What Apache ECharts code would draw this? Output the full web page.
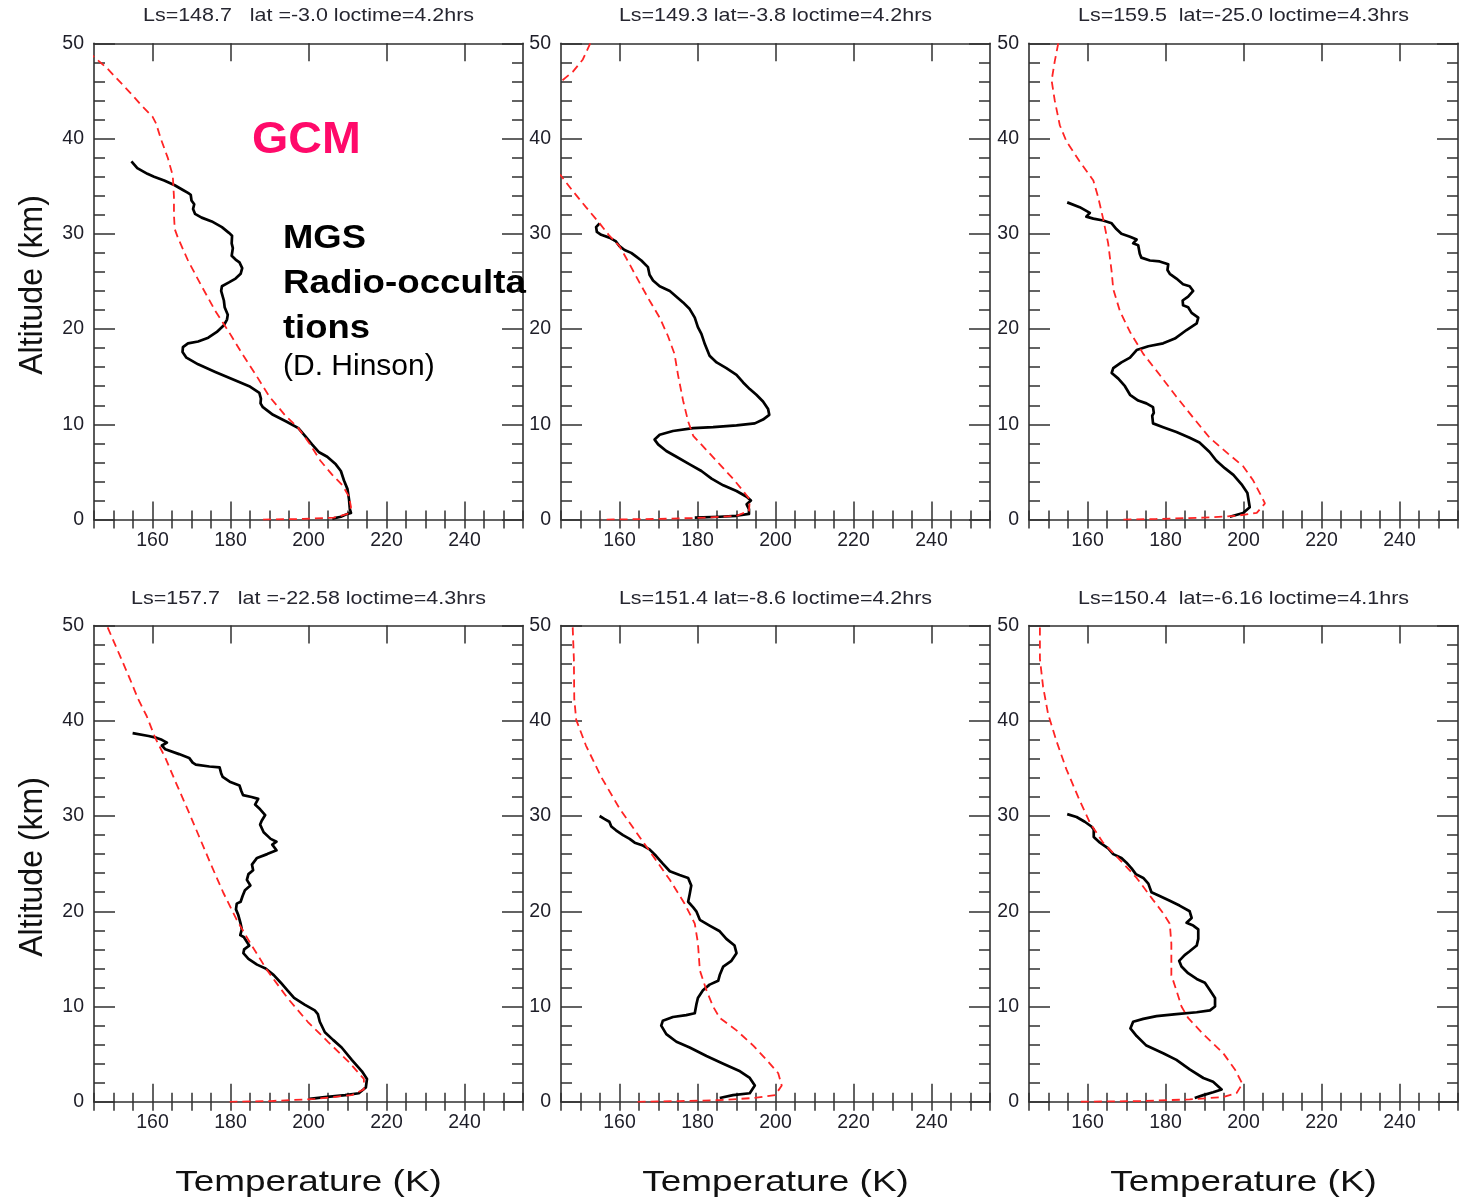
<!DOCTYPE html>
<html>
<head>
<meta charset="utf-8">
<script src="https://cdn.jsdelivr.net/npm/echarts@6/dist/echarts.min.js"></script>
<style>
  html, body { margin: 0; padding: 0; background: #fff; }
  #chart { width: 1462px; height: 1199px; }
</style>
</head>
<body>
<div id="chart"></div>
<script>
// Panel headings: season (Ls), latitude and local time of each occultation
const panelTitles = [
  'Ls=148.7   lat =-3.0 loctime=4.2hrs',
  'Ls=149.3 lat=-3.8 loctime=4.2hrs',
  'Ls=159.5  lat=-25.0 loctime=4.3hrs',
  'Ls=157.7   lat =-22.58 loctime=4.3hrs',
  'Ls=151.4 lat=-8.6 loctime=4.2hrs',
  'Ls=150.4  lat=-6.16 loctime=4.1hrs'
];

// Axis scales
const tempMin = 145, tempMax = 255;
const tempTicks = [160, 180, 200, 220, 240];
const altMin = 0, altMax = 50;

// Measured profiles, [temperature K, altitude km]
const mgs1 = [[154.6,37.6],[156.1,36.9],[158.7,36.3],[160.4,36.0],[163.0,35.6],[165.7,35.1],[167.8,34.6],[169.1,34.3],[169.8,34.1],[170.0,33.5],[170.7,33.1],[170.4,32.6],[170.9,32.1],[172.6,31.7],[175.2,31.3],[177.8,30.7],[179.6,30.1],[180.4,29.8],[180.3,29.0],[180.6,28.5],[180.3,27.7],[181.3,27.3],[182.3,27.0],[183.0,26.4],[182.6,25.8],[181.3,25.3],[179.6,24.9],[177.8,24.5],[177.6,24.0],[178.3,23.0],[178.5,22.3],[179.3,21.5],[179.1,21.0],[178.3,20.4],[176.5,19.7],[174.3,19.1],[171.7,18.7],[169.1,18.5],[167.8,18.1],[167.7,17.6],[168.7,17.0],[171.7,16.3],[176.1,15.5],[181.3,14.6],[184.8,14.0],[187.4,13.3],[187.8,12.7],[187.7,12.2],[188.3,11.8],[190.9,11.0],[194.3,10.3],[197.4,9.6],[199.1,8.8],[200.9,7.9],[202.6,7.1],[204.8,6.6],[207.0,5.8],[208.3,5.1],[209.1,4.1],[210.0,3.2],[210.4,2.1],[210.6,1.1],[210.9,0.7],[210.0,0.6],[208.3,0.3],[206.1,0.1]];
const mgs2 = [[154.9,31.1],[154.0,30.7],[154.2,30.2],[155.3,29.9],[157.4,29.6],[159.1,29.2],[160.0,28.7],[161.3,28.3],[163.0,28.0],[164.3,27.6],[165.6,27.2],[167.3,26.5],[167.7,25.7],[168.6,25.1],[170.3,24.5],[172.9,24.0],[174.6,23.4],[176.3,22.8],[178.0,22.1],[179.3,21.2],[180.1,20.2],[181.0,19.5],[181.9,18.4],[183.1,17.2],[184.9,16.5],[187.4,15.9],[190.0,15.2],[191.7,14.4],[193.4,13.7],[195.1,13.1],[196.8,12.4],[198.1,11.6],[198.4,11.0],[196.8,10.5],[194.7,10.1],[190.0,9.9],[184.0,9.7],[178.9,9.6],[173.7,9.3],[170.3,8.9],[169.0,8.4],[169.9,7.9],[172.0,7.2],[174.6,6.6],[178.0,5.8],[181.0,5.1],[183.6,4.3],[186.6,3.6],[190.0,3.0],[192.6,2.4],[193.7,2.0],[192.6,1.6],[193.2,1.1],[193.2,0.6],[190.0,0.4],[185.7,0.3],[179.3,0.2]];
const mgs3 = [[154.8,33.3],[158.0,32.8],[160.6,32.2],[159.7,31.8],[161.5,31.6],[164.0,31.4],[166.2,31.1],[167.4,30.5],[168.7,30.0],[170.9,29.7],[172.6,29.4],[171.7,29.0],[173.0,28.8],[173.4,27.9],[173.8,27.5],[176.0,27.2],[178.5,27.1],[180.7,26.8],[180.5,26.2],[181.1,25.8],[182.8,25.3],[184.5,24.7],[186.2,24.5],[187.1,24.0],[185.8,23.4],[184.4,23.0],[184.5,22.5],[185.8,22.3],[186.7,21.7],[188.4,21.2],[188.0,20.6],[185.4,19.9],[182.4,19.0],[179.4,18.5],[175.6,18.2],[172.6,17.8],[170.9,17.0],[168.7,16.5],[166.6,15.9],[166.2,15.4],[167.9,14.8],[169.6,14.0],[170.9,13.1],[173.0,12.5],[175.1,12.2],[176.8,11.8],[177.0,11.2],[176.6,10.9],[176.8,10.1],[179.4,9.7],[182.8,9.2],[186.2,8.6],[188.7,8.1],[191.3,7.1],[193.0,6.2],[195.2,5.4],[197.4,4.7],[199.5,3.7],[201.0,2.8],[201.6,1.3],[199.9,0.7],[196.5,0.3]];
const mgs4 = [[154.9,38.7],[159.0,38.4],[161.1,38.2],[162.4,38.0],[163.7,37.7],[162.4,37.4],[163.3,37.0],[166.8,36.5],[169.4,36.1],[170.3,35.6],[171.1,35.4],[174.6,35.2],[177.2,35.1],[177.6,34.5],[178.0,34.1],[179.8,33.6],[182.3,33.2],[182.8,32.6],[183.2,32.2],[185.4,32.0],[187.1,31.8],[186.3,31.2],[187.6,30.7],[188.9,30.1],[188.0,29.5],[187.6,29.1],[188.5,28.3],[190.3,27.6],[191.8,27.3],[190.7,27.0],[191.8,26.4],[189.4,26.0],[186.8,25.6],[185.5,24.9],[185.8,24.3],[184.6,23.9],[184.2,23.3],[185.1,22.7],[183.7,22.2],[183.1,21.6],[182.6,21.0],[181.6,20.8],[181.4,20.2],[182.0,19.6],[182.6,18.7],[182.9,18.1],[182.5,17.5],[183.4,17.3],[184.8,16.4],[183.5,16.0],[183.3,15.6],[184.6,15.0],[186.8,14.4],[189.0,14.0],[191.1,13.3],[192.9,12.5],[194.6,11.7],[196.3,10.9],[199.0,10.2],[201.6,9.6],[202.4,9.2],[202.9,8.4],[204.2,7.3],[206.3,6.5],[208.5,5.7],[211.1,4.4],[213.7,3.2],[215.0,2.4],[214.7,1.5],[212.9,0.9],[209.4,0.7],[204.2,0.5],[200.3,0.3]];
const mgs5 = [[154.9,30.0],[156.1,29.7],[157.4,29.4],[157.9,28.9],[159.1,28.5],[160.9,28.0],[162.6,27.6],[163.9,27.2],[166.0,26.9],[167.7,26.5],[169.4,25.8],[171.1,25.0],[172.9,24.2],[175.4,23.8],[177.6,23.5],[178.4,22.7],[178.0,21.8],[177.6,21.0],[178.9,20.4],[179.7,20.0],[180.6,19.1],[183.1,18.5],[185.7,17.9],[187.4,17.1],[189.5,16.4],[190.0,15.6],[188.7,14.8],[186.6,14.2],[185.7,13.3],[185.3,12.7],[183.1,12.3],[181.4,11.7],[180.1,10.9],[179.7,10.2],[179.3,9.3],[177.1,9.1],[173.7,8.9],[171.1,8.5],[170.7,8.0],[172.0,7.1],[174.6,6.3],[178.0,5.7],[182.3,4.8],[186.6,4.0],[190.9,3.2],[193.4,2.5],[194.7,1.7],[193.4,0.9],[189.1,0.7],[185.7,0.4]];
const mgs6 = [[154.8,30.2],[157.2,29.9],[159.3,29.4],[161.0,28.9],[161.6,28.6],[161.6,27.8],[163.2,27.2],[165.3,26.6],[166.6,26.0],[168.7,25.6],[170.0,25.1],[171.3,24.5],[172.4,23.9],[174.3,23.5],[175.6,22.9],[176.4,22.0],[178.5,21.6],[181.1,21.1],[183.6,20.6],[186.2,20.0],[186.7,19.3],[185.4,18.8],[187.1,18.5],[188.4,18.1],[188.4,17.1],[188.0,16.4],[186.2,15.8],[184.9,15.4],[183.5,14.8],[184.1,14.2],[185.8,13.5],[188.0,12.9],[190.1,12.5],[191.4,11.7],[192.7,10.9],[192.7,10.0],[191.4,9.6],[188.0,9.4],[182.8,9.2],[177.7,9.0],[174.3,8.7],[171.7,8.4],[171.0,7.7],[172.6,6.9],[175.1,5.9],[179.4,5.1],[182.8,4.4],[186.2,3.4],[189.7,2.5],[192.2,2.1],[194.4,1.3],[192.2,1.0],[189.7,0.7],[187.5,0.4]];

// Model (GCM) profiles, [temperature K, altitude km]
const gcm1 = [[143.5,49.1],[145.2,48.5],[148.3,47.4],[151.3,46.1],[154.3,44.8],[156.9,43.6],[160.0,42.3],[160.9,41.6],[162.2,39.9],[163.9,38.0],[165.2,36.1],[165.5,33.9],[165.5,32.0],[165.7,30.5],[166.5,29.6],[169.1,27.2],[172.6,24.5],[176.1,21.9],[179.6,19.7],[183.0,17.4],[186.5,15.2],[190.0,12.9],[193.9,11.0],[197.4,9.6],[200.4,7.9],[203.0,6.2],[206.1,4.7],[208.7,3.6],[210.4,2.4],[210.9,1.3],[210.0,0.6],[206.5,0.2],[198.7,0.07],[188.3,0]];
const gcm2 = [[152.5,50.0],[150.6,48.3],[148.0,47.0],[145.0,46.0],[141.5,44.3],[139.2,42.0],[138.6,40.0],[139.8,38.0],[142.0,37.0],[145.0,36.1],[148.0,34.5],[151.4,32.8],[154.9,31.1],[157.4,29.8],[160.0,28.7],[162.6,26.8],[165.1,24.9],[167.7,23.0],[170.3,21.2],[172.4,19.3],[174.1,17.4],[175.0,15.2],[176.3,12.5],[177.6,10.3],[178.9,8.8],[182.3,7.3],[185.7,5.8],[189.1,4.3],[192.1,2.8],[193.4,2.1],[193.2,0.9],[190.0,0.4],[182.3,0.2],[170.3,0.07],[155.3,0]];
const gcm3 = [[152.5,50.0],[151.6,48.1],[150.8,46.1],[151.6,44.0],[152.9,41.4],[154.6,39.7],[158.0,37.6],[161.5,35.6],[162.7,33.9],[164.0,31.6],[165.3,29.0],[166.2,26.0],[166.6,24.2],[168.3,21.9],[170.9,19.7],[174.3,17.4],[178.5,15.2],[182.8,12.9],[187.1,10.7],[191.3,8.6],[196.1,6.9],[199.9,5.6],[202.5,4.1],[204.4,2.6],[205.5,1.7],[203.4,0.7],[198.2,0.4],[189.7,0.2],[177.7,0.07],[169.1,0]];
const gcm4 = [[148.5,49.8],[150.3,48.1],[152.0,46.5],[154.2,44.4],[156.3,42.3],[158.5,40.5],[160.7,38.2],[163.3,36.1],[165.9,33.6],[169.0,30.7],[172.0,27.8],[175.0,24.9],[178.1,22.0],[181.6,19.1],[185.0,16.7],[189.4,13.8],[194.6,10.9],[199.8,8.4],[205.0,6.3],[210.3,4.2],[214.2,2.4],[214.2,1.3],[211.1,0.7],[201.6,0.3],[190.3,0.08],[179.8,0]];
const gcm5 = [[148.0,49.8],[148.3,46.5],[148.4,42.3],[148.9,40.1],[151.4,37.4],[155.3,34.1],[160.0,30.8],[164.3,28.3],[168.6,25.8],[172.9,23.3],[176.7,20.8],[179.3,18.7],[180.1,16.7],[180.6,13.8],[182.3,11.7],[184.0,10.0],[185.7,8.8],[190.0,7.5],[194.3,5.9],[197.7,4.4],[200.7,3.0],[201.6,1.7],[199.9,0.7],[194.3,0.4],[185.7,0.17],[175.4,0.08],[164.3,0]];
const gcm6 = [[147.8,49.8],[147.8,46.5],[148.6,43.6],[149.9,40.7],[152.1,37.8],[154.6,34.9],[157.6,32.0],[160.6,29.3],[164.0,27.2],[168.3,25.4],[172.6,23.5],[176.8,21.2],[179.4,19.8],[181.1,18.7],[181.5,16.6],[181.5,13.3],[182.8,11.7],[184.1,10.0],[185.8,8.8],[189.7,7.1],[194.8,5.1],[197.8,3.4],[199.7,1.9],[198.2,0.9],[194.8,0.5],[186.2,0.25],[173.4,0.08],[157.2,0]];

const mgsProfiles = [mgs1, mgs2, mgs3, mgs4, mgs5, mgs6];
const gcmProfiles = [gcm1, gcm2, gcm3, gcm4, gcm5, gcm6];

// Page layout
const colLefts = [94, 561, 1029];
const rowTops = [43.3, 625.5];
const plotW = 429, plotH = 476.3;
const FONT = '"Liberation Sans", Arial, Helvetica, sans-serif';
const frameColor = '#303030';
const labelColor = '#1e1e28';

const grids = [], xAxes = [], yAxes = [], series = [], graphics = [];

panelTitles.forEach((title, i) => {
  const col = i % 3, row = Math.floor(i / 3);
  const left = colLefts[col], top = rowTops[row];
  grids.push({ left: left, top: top, width: plotW, height: plotH, containLabel: false });

  const tickLine = { color: frameColor, width: 1.5 };
  const frame = { show: true, onZero: false, lineStyle: { color: frameColor, width: 1.6 } };
  const xBase = xAxes.length;
  ['bottom', 'top'].forEach(pos => {
    // major temperature ticks
    xAxes.push({
      type: 'value', gridIndex: i, position: pos, min: tempMin, max: tempMax,
      axisLine: frame,
      axisTick: { show: true, inside: true, length: 18, customValues: tempTicks, lineStyle: tickLine },
      axisLabel: pos === 'bottom'
        ? { show: true, customValues: tempTicks, margin: 11, fontSize: 19.5, color: labelColor, fontFamily: FONT }
        : { show: false },
      splitLine: { show: false }
    });
    // 5 K minor ticks
    xAxes.push({
      type: 'value', gridIndex: i, position: pos, min: tempMin, max: tempMax, interval: 5,
      axisLine: { show: false },
      axisTick: { show: true, inside: true, length: 9, lineStyle: tickLine },
      axisLabel: { show: false },
      splitLine: { show: false }
    });
  });

  const yBase = yAxes.length;
  ['left', 'right'].forEach(pos => {
    yAxes.push({
      type: 'value', gridIndex: i, position: pos, min: altMin, max: altMax, interval: 10,
      axisLine: frame,
      axisTick: { show: true, inside: true, length: 21, lineStyle: tickLine },
      minorTick: { show: true, splitNumber: 5, length: 11, lineStyle: tickLine },
      axisLabel: pos === 'left'
        ? { show: true, margin: 10, fontSize: 19.5, color: labelColor, fontFamily: FONT }
        : { show: false },
      splitLine: { show: false }
    });
  });

  series.push({
    name: 'MGS', type: 'line', xAxisIndex: xBase, yAxisIndex: yBase,
    data: mgsProfiles[i], showSymbol: false, symbol: 'none', clip: true,
    lineStyle: { color: '#000', width: 2.7, join: 'round' }, z: 3
  });
  series.push({
    name: 'GCM', type: 'line', xAxisIndex: xBase, yAxisIndex: yBase,
    data: gcmProfiles[i], showSymbol: false, symbol: 'none', clip: true,
    lineStyle: { color: '#ff2424', width: 1.8, type: [8, 5] }, z: 4
  });

  // panel heading
  graphics.push({
    type: 'text', x: left + plotW / 2, y: row === 0 ? 15.5 : 598.5, scaleX: 1.16,
    style: { text: title, fontSize: 18.5, fontFamily: FONT, fill: '#262630',
             textAlign: 'center', textVerticalAlign: 'middle', align: 'center', verticalAlign: 'middle' }
  });
  // x-axis name under the bottom row
  if (row === 1) {
    graphics.push({
      type: 'text', x: left + plotW / 2, y: 1183, scaleX: 1.23,
      style: { text: 'Temperature (K)', fontSize: 30, fontFamily: FONT, fill: '#111',
               textAlign: 'center', textVerticalAlign: 'middle', align: 'center', verticalAlign: 'middle' }
    });
  }
  // y-axis name beside the left column
  if (col === 0) {
    graphics.push({
      type: 'text', x: 33, y: row === 0 ? 285 : 867, rotation: Math.PI / 2, scaleY: 1.06,
      style: { text: 'Altitude (km)', fontSize: 32, fontFamily: FONT, fill: '#111',
               textAlign: 'center', textVerticalAlign: 'middle', align: 'center', verticalAlign: 'middle' }
    });
  }
});

// Legend-style annotations inside the first panel
const noteStyle = (text, size, weight, color) => ({
  text: text, fontSize: size, fontWeight: weight, fontFamily: FONT, fill: color,
  textAlign: 'left', textVerticalAlign: 'middle', align: 'left', verticalAlign: 'middle'
});
graphics.push({ type: 'text', x: 252, y: 141, scaleX: 1.06, z: 10, style: noteStyle('GCM', 44, 'bold', '#ff0a6a') });
graphics.push({ type: 'text', x: 283, y: 239, scaleX: 1.12, z: 10, style: noteStyle('MGS', 32.5, 'bold', '#000') });
graphics.push({ type: 'text', x: 283, y: 284, scaleX: 1.13, z: 10, style: noteStyle('Radio-occulta', 32.5, 'bold', '#000') });
graphics.push({ type: 'text', x: 283, y: 329, scaleX: 1.12, z: 10, style: noteStyle('tions', 32.5, 'bold', '#000') });
graphics.push({ type: 'text', x: 283, y: 367, z: 10, style: noteStyle('(D. Hinson)', 30, 'normal', '#000') });

const chart = echarts.init(document.getElementById('chart'), null, { renderer: 'canvas' });
chart.setOption({
  animation: false,
  backgroundColor: '#fff',
  grid: grids,
  xAxis: xAxes,
  yAxis: yAxes,
  series: series,
  graphic: graphics
});
</script>
</body>
</html>
